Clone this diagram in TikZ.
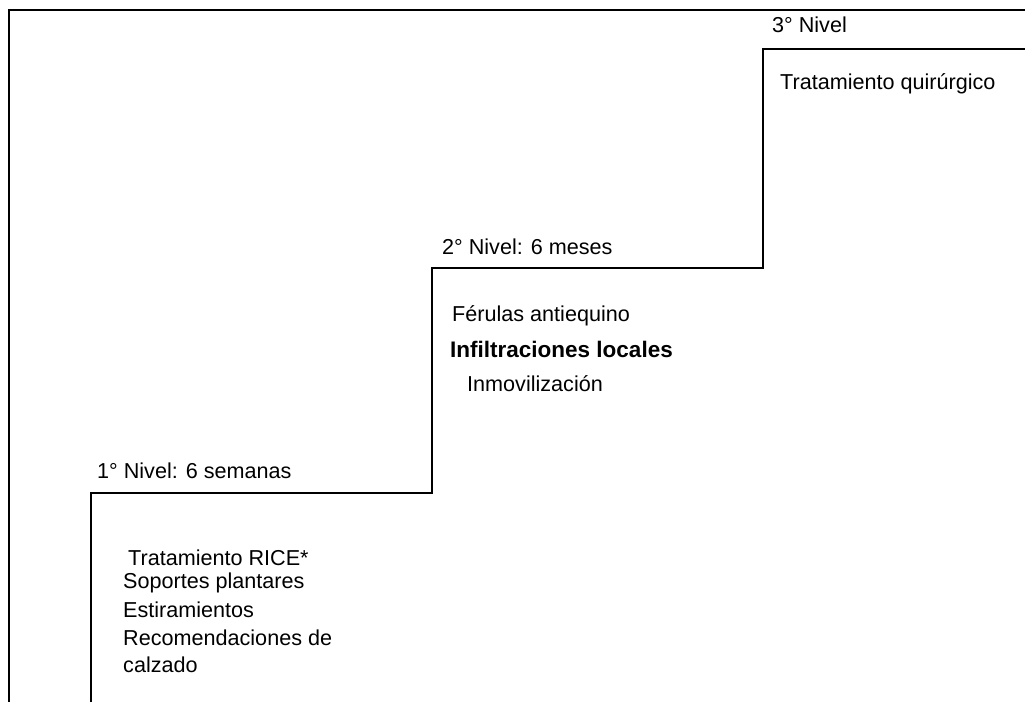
\documentclass[tikz,border=0pt]{standalone}
\usepackage{fontspec}
\setmainfont{Liberation Sans}
\usepackage{tikz}
\tikzset{
    lbl/.style={anchor=base west, inner sep=0pt, font=\fontsize{21.6}{25}\selectfont},
    stair/.style={line width=1.2pt},
    frame/.style={line width=2.6pt}
}

\begin{document}
\begin{tikzpicture}[x=1pt, y=1pt]
            \useasboundingbox (0, 0) rectangle (1025, 702);
            % coordinates
            \coordinate (frame-bottom) at (9, 0);
            \coordinate (frame-corner) at (9, 692);
            \coordinate (frame-right) at (1025, 692);
            \coordinate (step1-bottom) at (91, 0);
            \coordinate (step1-corner) at (91, 209);
            \coordinate (step1-edge) at (432, 209);
            \coordinate (step2-corner) at (432, 434);
            \coordinate (step2-edge) at (763, 434);
            \coordinate (step3-corner) at (763, 653);
            \coordinate (step3-end) at (1025, 653);
            % frame
            \draw[frame] (frame-bottom) -- (frame-corner) -- (frame-right);
            % stairs
            \draw[stair] (step1-bottom) -- (step1-corner) -- (step1-edge) -- (step2-corner)
                -- (step2-edge) -- (step3-corner) -- (step3-end);
            % third level
            \node[lbl] (nivel3) at (772, 669) {3° Nivel};
            \node[lbl] (quirurgico) at (780, 612) {Tratamiento quirúrgico};
            % second level
            \node[lbl] (nivel2) at (442, 447) {2° Nivel: 6 meses};
            \node[lbl] (ferulas) at (452, 380) {Férulas antiequino};
            \node[lbl, font=\fontsize{22.5}{25}\selectfont\bfseries] (infiltraciones) at (450, 344) {Infiltraciones locales};
            \node[lbl] (inmovilizacion) at (467, 310) {Inmovilización};
            % first level
            \node[lbl] (nivel1) at (97, 224) {1° Nivel: 6 semanas};
            \node[lbl] (rice) at (128, 137) {Tratamiento RICE*};
            \node[lbl] (soportes) at (123, 114) {Soportes plantares};
            \node[lbl] (estiramientos) at (123, 85) {Estiramientos};
            \node[lbl] (recomendaciones) at (123, 57) {Recomendaciones de};
            \node[lbl] (calzado) at (123, 30) {calzado};
        \end{tikzpicture}
\end{document}
